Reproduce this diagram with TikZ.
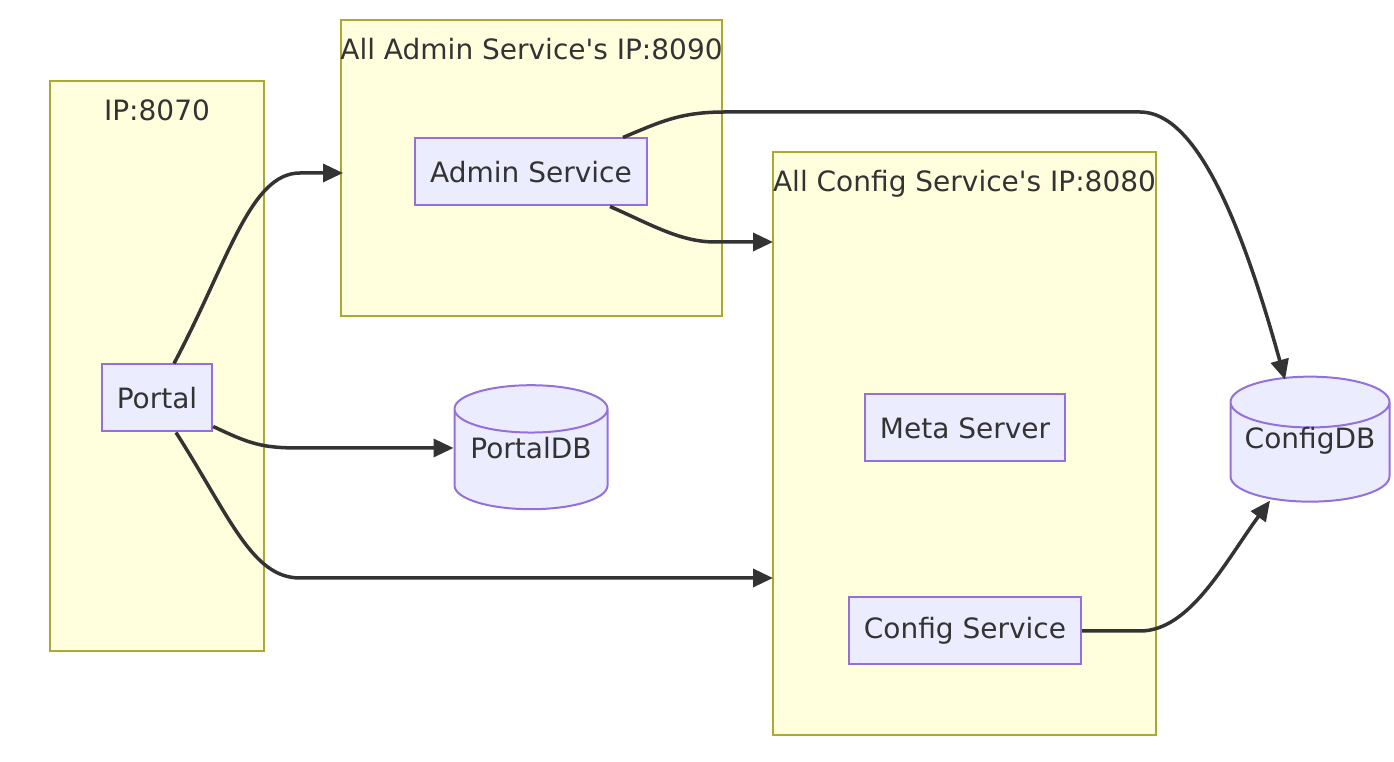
\documentclass[tikz,border=0pt]{standalone}
\usepackage{fontspec}
\setmainfont{DejaVu Sans}[Ligatures=TeXOff]
\usetikzlibrary{arrows.meta,shapes.geometric}
\definecolor{clfill}{HTML}{FFFFDE}
\definecolor{clline}{HTML}{AAAA33}
\definecolor{ndfill}{HTML}{ECECFF}
\definecolor{ndline}{HTML}{9370DB}
\definecolor{ink}{HTML}{333333}
\newcommand{\dblift}[1]{\raisebox{15pt}[\height][\depth]{#1}}
\begin{document}
\begin{tikzpicture}[x=1pt,y=1pt,
  font=\fontsize{28}{34}\selectfont, text=ink,
  cluster/.style={draw=clline, fill=clfill, line width=2pt, inner sep=0pt},
  cltitle/.style={anchor=base, inner sep=0pt},
  box/.style={draw=ndline, fill=ndfill, line width=2pt, minimum height=67pt, inner xsep=15pt},
  db/.style={cylinder, shape border rotate=90, aspect=0.37, draw=ndline, fill=ndfill, line width=2pt},
  flow/.style={draw=ink, line width=3.5pt, -{Triangle[length=20pt,width=18pt]}}]
\useasboundingbox (0,0) rectangle (1394,762);

% clusters
\node[cluster, minimum width=214, minimum height=570] (c8070) at (157,396) {};
\node[cltitle] at ([yshift=-40.5]c8070.north) {IP:8070};
\node[cluster, minimum width=381, minimum height=296] (c8090) at (531.5,594) {};
\node[cltitle] at ([yshift=-40.5]c8090.north) {All Admin Service's IP:8090};
\node[cluster, minimum width=383, minimum height=583] (c8080) at (964.5,318.5) {};
\node[cltitle] at ([yshift=-40.5]c8080.north) {All Config Service's IP:8080};

% nodes
\node[box] (admin) at (531,590) {Admin Service};
\node[box] (portal) at (157,364) {Portal};
\node[box] (meta) at (965,334) {Meta Server};
\node[box] (cfgsvc) at (965,131) {Config Service};
\node[db, minimum width=153, minimum height=124] (portaldb) at (531,299) {\dblift{PortalDB}};
\node[db, minimum width=159, minimum height=125] (configdb) at (1310,306) {\dblift{ConfigDB}};

\coordinate (admin in) at (343,589);
\coordinate (cfgtop) at (773,520);
\coordinate (cfgbot) at (773,184);

% edges
\draw[flow] ([xshift=17]portal.north) .. controls (228,500) and (250,589) .. (300,589) -- (admin in);
\draw[flow] ([yshift=6]portal.south east) .. controls (250,318) and (262,314) .. (300,314) -- (portaldb.west |- 0,314);
\draw[flow] ([xshift=19]portal.south) .. controls (230,245) and (252,184) .. (300,184) -- (cfgbot);
\draw[flow] ([xshift=79]admin.south) .. controls (650,538) and (680,520) .. (715,520) -- (cfgtop);
\draw[flow] ([xshift=92]admin.north) .. controls (660,640) and (680,650) .. (725,650) -- (1140,650)
  .. controls (1195,650) and (1240,545) .. ([xshift=-25,yshift=-4]configdb.north);
\draw[flow] (cfgsvc.east) -- (1140,131) .. controls (1190,131) and (1225,200) .. ([xshift=-40,yshift=2]configdb.south);
\end{tikzpicture}
\end{document}
